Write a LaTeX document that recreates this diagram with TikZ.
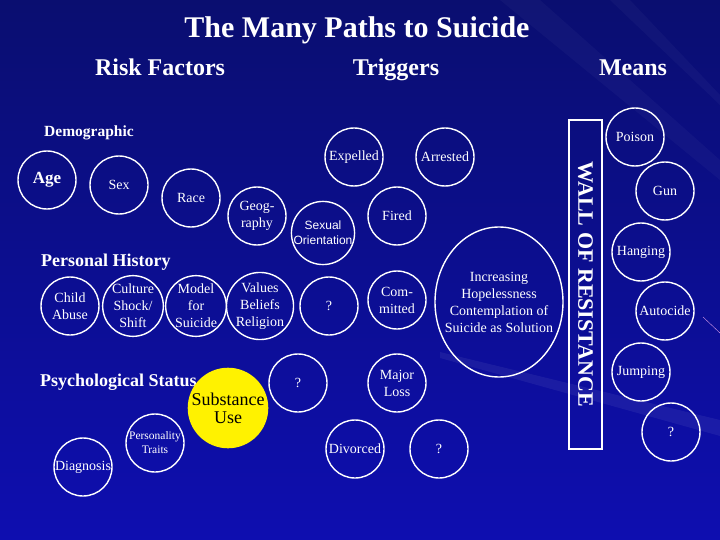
\documentclass[tikz,border=0pt]{standalone}
\usepackage{fontspec}
\setmainfont{Liberation Serif}
\newfontfamily\sansf{Liberation Sans}
\usetikzlibrary{shapes.geometric}
\definecolor{bgtop}{RGB}{10,14,112}
\definecolor{bgmid}{RGB}{10,10,150}
\definecolor{bgbot}{RGB}{14,14,176}
\definecolor{streak}{RGB}{210,150,230}

\begin{document}
\begin{tikzpicture}[x=1pt,y=-1pt,
  bub/.style={circle,draw=white,line width=1.4pt,minimum size=58pt,inner sep=0pt,
    text=white,align=center,font=\fontsize{14}{17}\selectfont},
  hdr/.style={text=white,anchor=base,font=\bfseries\fontsize{24}{28}\selectfont},
  grp/.style={text=white,anchor=west,inner sep=0pt,font=\bfseries\fontsize{18}{21}\selectfont}]
  \shade[top color=bgtop,middle color=bgmid,bottom color=bgbot] (0,0) rectangle (720,540);
  \useasboundingbox (0,0) rectangle (720,540);
  % light bands
  \fill[white,opacity=0.06] (440,352) -- (720,420) -- (720,436) -- (440,358) -- cycle;
  \fill[white,opacity=0.03] (500,0) -- (540,0) -- (720,160) -- (720,180) -- cycle;
  \fill[white,opacity=0.03] (610,0) -- (630,0) -- (720,95) -- (720,105) -- cycle;
  \draw[streak] (703,317) -- (720,333);
  \node[text=white,font=\bfseries\fontsize{30}{34}\selectfont] (title) at (357,30) {The Many Paths to Suicide};
  \node[hdr] (risk) at (160,76) {Risk Factors};
  \node[hdr] (trig) at (396,76) {Triggers};
  \node[hdr] (means) at (633,76) {Means};
  % risk factors
  \node[text=white,font=\bfseries\fontsize{15.5}{18}\selectfont] (demog) at (89,133) {Demographic};
  \node[bub,font=\bfseries\fontsize{17}{20}\selectfont] (age) at (47,180) {Age};
  \node[bub] (sex) at (119,185) {Sex};
  \node[bub] (race) at (191,198) {Race};
  \node[bub] (geo) at (257,216) {Geog-\\raphy};
  \node[grp] (perhist) at (41,262) {Personal History};
  \node[bub] (abuse) at (70,306) {Child\\Abuse};
  \node[bub] (culture) at (133,306) {Culture\\Shock/\\Shift};
  \node[bub] (model) at (196,306) {Model\\for\\Suicide};
  \node[bub] (values) at (260,306) {Values\\Beliefs\\Religion};
  \node[grp] (psych) at (40,382) {Psychological Status};
  \node[bub,fill=yellow,draw=yellow,minimum size=72pt,text=black,
    font=\fontsize{18}{18}\selectfont] (subst) at (228,408) {Substance\\Use};
  \node[bub,font=\fontsize{11.5}{14}\selectfont] (perso) at (155,443) {Personality\\Traits};
  \node[bub] (diag) at (83,467) {Diagnosis};
  % triggers
  \node[bub] (expel) at (354,157) {Expelled};
  \node[bub] (arrest) at (445,157) {Arrested};
  \node[bub] (fired) at (397,216) {Fired};
  \node[bub,font=\sansf\fontsize{12}{15}\selectfont] (sexor) at (323,233) {Sexual\\Orientation};
  \node[bub] (qa) at (329,306) {?};
  \node[bub] (commit) at (397,300) {Com-\\mitted};
  \node[bub] (qb) at (298,383) {?};
  \node[bub] (major) at (397,383) {Major\\Loss};
  \node[bub] (divorce) at (355,449) {Divorced};
  \node[bub] (qc) at (439,449) {?};
  \node[bub,ellipse,inner xsep=-12pt,minimum width=128pt,minimum height=150pt] (hope) at (499,302)
    {Increasing\\Hopelessness\\Contemplation of\\Suicide as Solution};
  \node[draw=white,line width=1.4pt,rotate=-90,minimum width=329pt,minimum height=33pt,
    inner sep=0pt,text=white,font=\bfseries\fontsize{22}{24}\selectfont] (wall) at (585.5,284.5) {WALL OF RESISTANCE};
  % means
  \node[bub] (poison) at (635,137) {Poison};
  \node[bub] (gun) at (665,191) {Gun};
  \node[bub] (hang) at (641,252) {Hanging};
  \node[bub] (auto) at (665,311) {Autocide};
  \node[bub] (jump) at (641,372) {Jumping};
  \node[bub] (qd) at (671,432) {?};
\end{tikzpicture}
\end{document}
